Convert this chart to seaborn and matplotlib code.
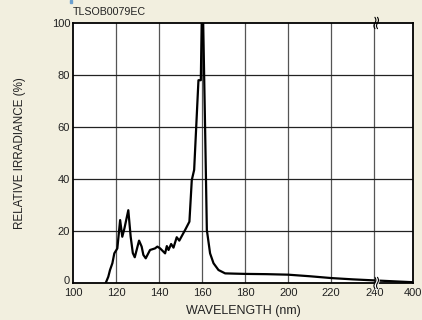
import numpy as np
import pandas as pd
import matplotlib
matplotlib.use("Agg")
import matplotlib.pyplot as plt
import matplotlib.transforms as mtransforms
import seaborn as sns

# Spectral data: wavelength (nm) and relative irradiance (%)
wavelength = [115.2, 116.4, 117.2, 118.3, 119.2, 120.6, 121.9, 122.9, 123.9, 125.7,
              126.8, 127.8, 128.7, 130.7, 131.9, 132.7, 133.8, 135.8, 138.1, 139.2,
              140.5, 142.8, 143.6, 144.4, 145.6, 146.7, 148.2, 149.4, 152.1, 154.1,
              155.2, 156.3, 158.3, 159.4, 159.8, 160.5, 161.4, 162.2, 163.7, 165.3,
              167.6, 170.7, 175.0, 180.0, 190.0, 200.0, 210.0, 220.0, 230.0, 240.0,
              400.0]
irradiance = [0, 2.4, 5, 7.6, 11.4, 13.3, 24.2, 17.8, 21, 28,
              17.8, 11.5, 9.9, 16.3, 14, 10.8, 9.5, 12.7, 13.3, 14,
              13.3, 11.4, 14.2, 12.7, 15, 13.6, 17.6, 16.3, 20.4, 23.6,
              39.6, 43.5, 78, 78, 100, 100, 59, 20.4, 11.4, 7.6,
              5, 3.7, 3.6, 3.5, 3.4, 3.2, 2.6, 1.9, 1.4, 1.0,
              0.3]
x_ticks = [100, 120, 140, 160, 180, 200, 220, 240, 400]
y_ticks = [0, 20, 40, 60, 80, 100]

# Broken x axis: 240-400 nm squeezed into a short segment
BREAK = 240.0
SQUEEZE = 18.0 / 160.0


def to_pos(x):
    x = np.asarray(x, dtype=float)
    return np.where(x <= BREAK, x, BREAK + (x - BREAK) * SQUEEZE)


df = pd.DataFrame({"pos": to_pos(wavelength), "irr": irradiance})

sns.set_theme(style="white")
plt.rcParams["font.family"] = ["Liberation Sans", "DejaVu Sans"]

bg = "#f2efdf"
txt = "#222222"
fig = plt.figure(figsize=(4.22, 3.2), dpi=100, facecolor=bg)
ax = fig.add_axes([73 / 422, 1 - 283 / 320, 340 / 422, 260 / 320])
ax.set_facecolor("white")

tick_pos = to_pos(x_ticks)
for p in tick_pos[1:-1]:
    ax.axvline(p, color="#555555", lw=0.9, zorder=1)
for v in y_ticks[1:-1]:
    ax.axhline(v, color="#222222", lw=0.9, zorder=1)

sns.lineplot(data=df, x="pos", y="irr", sort=False, estimator=None,
             color="black", lw=1.6, ax=ax, zorder=3)

ax.set_xlim(100, tick_pos[-1])
ax.set_ylim(0, 100)
ax.set_xticks(tick_pos)
ax.set_xticklabels([str(t) for t in x_ticks])
ax.set_yticks(y_ticks)
ax.set_yticklabels([str(t) for t in y_ticks])
ax.tick_params(axis="both", length=0, labelsize=8, colors=txt)
ax.tick_params(axis="y", pad=2)
ax.tick_params(axis="x", pad=3.5)
for s in ax.spines.values():
    s.set_color("black")
    s.set_linewidth(1.3)

# lift the "0" label a little so it clears the "100" below it
zero_lbl = ax.get_yticklabels()[0]
zero_lbl.set_transform(zero_lbl.get_transform()
                       + mtransforms.ScaledTranslation(0, 2.5 / 100, fig.dpi_scale_trans))

ax.set_xlabel("WAVELENGTH (nm)", fontsize=9, color=txt, va="center")
ax.xaxis.set_label_coords(0.5, (283 - 311) / 260)
ax.set_ylabel("RELATIVE IRRADIANCE (%)", fontsize=8.4, color=txt, va="center")
ax.yaxis.set_label_coords((20 - 73) / 340, 0.5)

# Axis-break squiggles at 240 nm (top and bottom edges)
trans = ax.get_xaxis_transform()
t = np.linspace(-1, 1, 30)
for yc, gap in ((1.0, False), (0.0, True)):
    ys = yc + t * 0.022
    w = 0.45 * np.sin(np.pi * t)
    x1 = BREAK + 0.3 + w
    x2 = BREAK + 1.5 + w
    if gap:
        ax.fill_betweenx(ys, x1, x2, color="white", transform=trans,
                         zorder=5, clip_on=False)
    ax.plot(x1, ys, color="black", lw=0.8, transform=trans, zorder=6, clip_on=False)
    ax.plot(x2, ys, color="black", lw=0.8, transform=trans, zorder=6, clip_on=False)

fig.text(73 / 422, 1 - 12 / 320, "TLSOB0079EC", fontsize=7.7, color=txt,
         va="center", ha="left")
fig.patches.append(plt.Rectangle((69.5 / 422, 1 - 3 / 320), 2.5 / 422, 3 / 320,
                                 transform=fig.transFigure, color="#6a9fcf"))

fig.savefig("out.png", dpi=100, facecolor=bg)
